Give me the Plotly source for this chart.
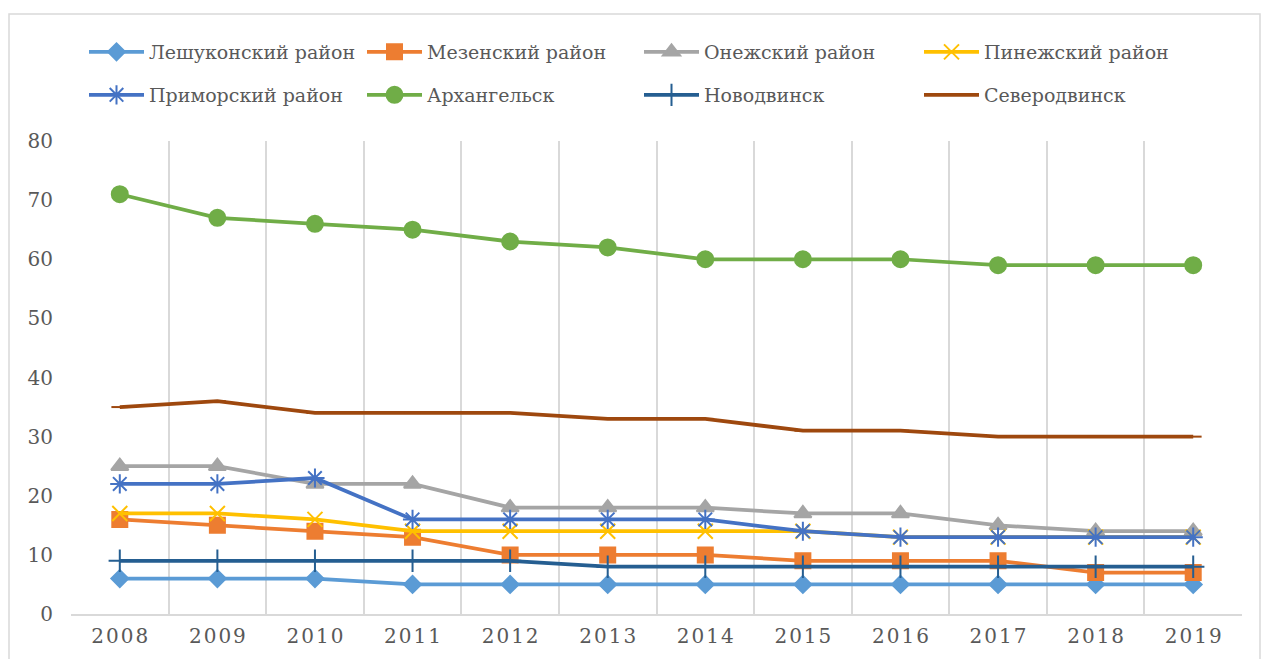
import plotly.graph_objects as go

years = ["2008", "2009", "2010", "2011", "2012", "2013", "2014", "2015", "2016", "2017", "2018", "2019"]

leshukonsky = [6, 6, 6, 5, 5, 5, 5, 5, 5, 5, 5, 5]
mezensky = [16, 15, 14, 13, 10, 10, 10, 9, 9, 9, 7, 7]
onezhsky = [25, 25, 22, 22, 18, 18, 18, 17, 17, 15, 14, 14]
pinezhsky = [17, 17, 16, 14, 14, 14, 14, 14, 13, 13, 13, 13]
primorsky = [22, 22, 23, 16, 16, 16, 16, 14, 13, 13, 13, 13]
arkhangelsk = [71, 67, 66, 65, 63, 62, 60, 60, 60, 59, 59, 59]
novodvinsk = [9, 9, 9, 9, 9, 8, 8, 8, 8, 8, 8, 8]
severodvinsk = [35, 36, 34, 34, 34, 33, 33, 31, 31, 30, 30, 30]

names = ["Лешуконский район", "Мезенский район", "Онежский район", "Пинежский район",
         "Приморский район", "Архангельск", "Новодвинск", "Северодвинск"]
series = [leshukonsky, mezensky, onezhsky, pinezhsky, primorsky, arkhangelsk, novodvinsk, severodvinsk]
colors = ["#5B9BD5", "#ED7D31", "#A5A5A5", "#FFC000", "#4472C4", "#70AD47", "#255E91", "#9E480E"]
symbols = ["diamond", "square", "triangle-up", "x-thin-open", "asterisk-open", "circle", "cross-thin-open", "line-ew-open"]
msizes = [13, 15, 15, 15, 16, 16, 16, 12]

FONT = "DejaVu Serif"
TXT = "#595959"

W, H = 1261, 659
ml, mr, mt, mb = 71, 19, 141, 45

x_idx = list(range(len(years)))
fig = go.Figure()
legend_layouts = {}
col_x = [84, 362, 639, 919]
row_y = [33, 76]
for i, (nm, vals) in enumerate(zip(names, series)):
    lname = "legend" if i == 0 else f"legend{i + 1}"
    fig.add_trace(go.Scatter(
        x=x_idx, y=vals, name=nm, mode="lines+markers",
        line=dict(color=colors[i], width=3.75),
        marker=dict(symbol=symbols[i], size=msizes[i], color=colors[i],
                    line=dict(color=colors[i], width=2)),
        legend=lname, showlegend=True,
    ))
    legend_layouts[lname] = dict(
        xref="container", yref="container",
        x=col_x[i % 4] / W, y=1 - row_y[i // 4] / H, xanchor="left", yanchor="top",
        font=dict(family=FONT, size=19, color=TXT), bgcolor="rgba(0,0,0,0)",
        itemwidth=55,
    )

ticktext = ["\u200a".join(list(y)) for y in years]

fig.update_layout(
    width=W, height=H, showlegend=True,
    margin=dict(l=ml, r=mr, t=mt, b=mb, autoexpand=False),
    paper_bgcolor="white", plot_bgcolor="white",
    font=dict(family=FONT, size=20, color=TXT),
    xaxis=dict(
        range=[-0.5, len(years) - 0.5], tickvals=x_idx, ticktext=ticktext,
        showgrid=False, zeroline=False,
        showline=True, linecolor="#D9D9D9", linewidth=1.5,
        ticks="outside", ticklen=3, tickcolor="rgba(0,0,0,0)",
        minor=dict(tickvals=[k - 0.5 for k in range(len(years) + 1)], showgrid=True,
                   gridcolor="#D9D9D9", gridwidth=1.5, ticks=""),
        tickfont=dict(family=FONT, size=20, color=TXT),
        fixedrange=True,
    ),
    yaxis=dict(
        range=[0, 80], dtick=10, showgrid=False, zeroline=False, showline=False,
        ticks="outside", ticklen=13, tickcolor="rgba(0,0,0,0)",
        tickfont=dict(family=FONT, size=20, color=TXT),
        fixedrange=True,
    ),
    shapes=[dict(type="rect", xref="paper", yref="paper",
                 x0=(9 - ml) / (W - ml - mr), x1=(1260 - ml) / (W - ml - mr),
                 y0=-(mb + 10) / (H - mt - mb),
                 y1=1 + (mt - 14) / (H - mt - mb),
                 line=dict(color="#D9D9D9", width=1.5), fillcolor="rgba(0,0,0,0)", layer="below")],
    **legend_layouts,
)

fig.write_html("out.html", config={"displayModeBar": False},
               post_script="document.body.style.margin='0';")
